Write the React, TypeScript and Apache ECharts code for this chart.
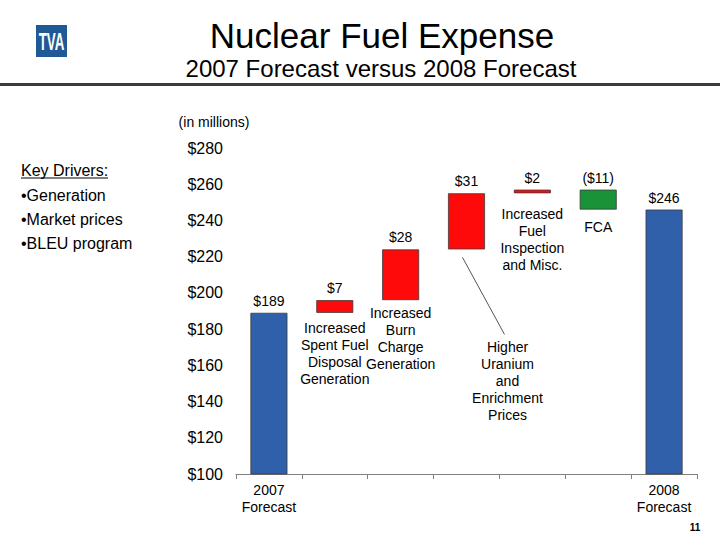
import React, { useEffect, useRef } from "react";
import * as echarts from "echarts";

const categories = [
  "2007 Forecast",
  "Spent Fuel Disposal",
  "Burn Charge",
  "Uranium and Enrichment",
  "Fuel Inspection and Misc.",
  "FCA",
  "2008 Forecast",
];
const tickLabels = ["2007\nForecast", "", "", "", "", "", "2008\nForecast"];
const amounts = [189, 7, 28, 31, 2, -11, 246];
const kinds = ["total", "inc", "inc", "inc", "inc", "dec", "total"];
const valueLabels = ["$189", "$7", "$28", "$31", "$2", "($11)", "$246"];
const annotations = [
  "",
  "Increased\nSpent Fuel\nDisposal\nGeneration",
  "Increased\nBurn\nCharge\nGeneration",
  "Higher\nUranium\nand\nEnrichment\nPrices",
  "Increased\nFuel\nInspection\nand Misc.",
  "FCA",
  "",
];
const drivers = ["•Generation", "•Market prices", "•BLEU program"];
const yMin = 100;
const yMax = 280;
const yStep = 20;

const FONT = "'Liberation Sans', Arial, sans-serif";
const kindColor: Record<string, string> = {
  total: "#3060AA",
  inc: "#FF0A0A",
  dec: "#1A9238",
};

// per-annotation placement tweaks (pixels)
const annoStyle: Record<number, { distance: number; offset?: [number, number] }> = {
  1: { distance: 7 },
  2: { distance: 4 },
  3: { distance: 5, offset: [41, 84] },
  4: { distance: 12 },
  5: { distance: 9 },
};

export default function App() {
  const ref = useRef<HTMLDivElement>(null);
  useEffect(() => {
    if (!ref.current) return;
    const chart = echarts.init(ref.current, undefined, { renderer: "svg" });

    let running = 0;
    const bases: number[] = [];
    const heights: number[] = [];
    amounts.forEach((a, i) => {
      if (kinds[i] === "total") {
        bases.push(0);
        heights.push(a);
        running = a;
      } else if (a >= 0) {
        bases.push(running);
        heights.push(a);
        running += a;
      } else {
        running += a;
        bases.push(running);
        heights.push(-a);
      }
    });

    const baseData = bases.map((b, i) => {
      const s = annoStyle[i];
      return {
        value: b,
        label: annotations[i]
          ? {
              show: true,
              position: "insideTop",
              distance: s ? s.distance : 5,
              offset: s && s.offset ? s.offset : [0, 0],
              formatter: annotations[i],
              fontSize: 14,
              lineHeight: 17,
              color: "#000",
              fontFamily: FONT,
              align: "center",
            }
          : { show: false },
      };
    });

    const deltaData = heights.map((h, i) => ({
      value: h,
      itemStyle: { color: kindColor[kinds[i]] },
    }));

    chart.setOption({
      animation: false,
      backgroundColor: "#ffffff",
      grid: { left: 236, right: 23, top: 148, bottom: 66 },
      xAxis: {
        type: "category",
        data: categories,
        axisLine: { lineStyle: { color: "#808080", width: 1 } },
        axisTick: { show: true, interval: 0, length: 5, lineStyle: { color: "#808080" } },
        axisLabel: {
          interval: 0,
          formatter: (_v: string, idx: number) => tickLabels[idx],
          fontSize: 14,
          lineHeight: 17,
          color: "#000",
          fontFamily: FONT,
          margin: 7,
        },
        splitLine: { show: false },
      },
      yAxis: {
        type: "value",
        min: yMin,
        max: yMax,
        interval: yStep,
        axisLine: { show: false },
        axisTick: { show: false },
        splitLine: { show: false },
        axisLabel: {
          formatter: (v: number) => "$" + v,
          fontSize: 16,
          color: "#000",
          fontFamily: FONT,
          margin: 13,
        },
      },
      series: [
        {
          type: "bar",
          stack: "w",
          barWidth: 37,
          silent: true,
          itemStyle: { color: "rgba(0,0,0,0)" },
          data: baseData,
          z: 3,
        },
        {
          type: "bar",
          stack: "w",
          barWidth: 37,
          itemStyle: { borderColor: "#3a3a3a", borderWidth: 0.8 },
          label: {
            show: true,
            position: "top",
            distance: 5,
            formatter: (p: any) => valueLabels[p.dataIndex],
            fontSize: 14,
            color: "#000",
            fontFamily: FONT,
          },
          data: deltaData,
          z: 2,
        },
      ],
    });

    const anchor = chart.convertToPixel({ xAxisIndex: 0, yAxisIndex: 0 }, [3, bases[3]]) as number[];

    const graphic: any[] = [
      {
        type: "rect",
        shape: { x: 36, y: 25, width: 31, height: 32 },
        style: { fill: "#1F5A96" },
      },
      {
        type: "group",
        x: 51.5,
        y: 42,
        children: [
          {
            type: "text",
            x: 0,
            y: 0,
            scaleX: 0.58,
            style: {
              text: "TVA",
              fill: "#ffffff",
              font: "bold 23px " + FONT,
              align: "center",
              verticalAlign: "middle",
            },
          },
        ],
      },
      {
        type: "text",
        x: 382,
        y: 35,
        style: {
          text: "Nuclear Fuel Expense",
          fill: "#000",
          font: "35px " + FONT,
          align: "center",
          verticalAlign: "middle",
        },
      },
      {
        type: "text",
        x: 381,
        y: 68,
        style: {
          text: "2007 Forecast versus 2008 Forecast",
          fill: "#000",
          font: "24px " + FONT,
          align: "center",
          verticalAlign: "middle",
        },
      },
      {
        type: "line",
        shape: { x1: 0, y1: 84.5, x2: 720, y2: 84.5 },
        style: { stroke: "#3c3c3c", lineWidth: 3 },
      },
      {
        type: "text",
        x: 214,
        y: 122,
        style: {
          text: "(in millions)",
          fill: "#000",
          font: "14px " + FONT,
          align: "center",
          verticalAlign: "middle",
        },
      },
      {
        type: "text",
        x: 21,
        y: 170,
        style: {
          text: "Key Drivers:",
          fill: "#000",
          font: "16px " + FONT,
          align: "left",
          verticalAlign: "middle",
        },
      },
      {
        type: "line",
        shape: { x1: 21, y1: 178, x2: 108, y2: 178 },
        style: { stroke: "#000", lineWidth: 1 },
      },
      ...drivers.map((d, i) => ({
        type: "text",
        x: 21,
        y: 195 + i * 24,
        style: {
          text: d,
          fill: "#000",
          font: "16px " + FONT,
          align: "left",
          verticalAlign: "middle",
        },
      })),
      {
        type: "line",
        shape: {
          x1: anchor[0] - 4,
          y1: anchor[1] + 8,
          x2: anchor[0] + 38,
          y2: anchor[1] + 85,
        },
        style: { stroke: "#555", lineWidth: 1 },
      },
      {
        type: "text",
        x: 695,
        y: 527,
        style: {
          text: "11",
          fill: "#000",
          font: "bold 10px " + FONT,
          align: "center",
          verticalAlign: "middle",
        },
      },
    ];

    chart.setOption({ graphic });

    return () => chart.dispose();
  }, []);

  return (
    <div
      ref={ref}
      style={{ position: "absolute", left: 0, top: 0, width: 720, height: 540, background: "#fff" }}
    />
  );
}
